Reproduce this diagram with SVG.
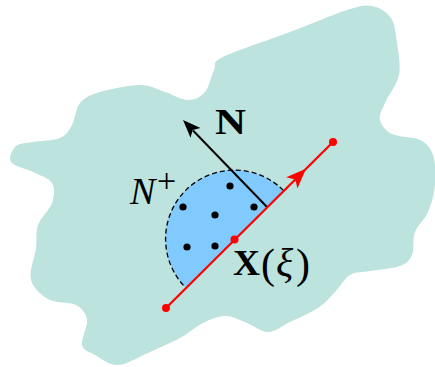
<svg xmlns="http://www.w3.org/2000/svg" width="435" height="367" viewBox="0 0 435 367">
<style>
.lbl{font-family:"Liberation Serif","Times New Roman",serif;fill:#000}
.dot{fill:#000}
.rdot{fill:#ff0000}
</style>
<rect width="435" height="367" fill="#ffffff"/>
<g id="region">
<path fill="#bde3de" d="M223,57 C235.7,50.7 269.3,39.8 290,32 S333.3,14.3 347,10 S364.7,4.7 372,6 S386.8,11.8 391,18 S395.7,33.5 397,43 S401,65 399,75 S388.2,95.5 385,103 S378.8,114.8 380,120 S385.3,130.7 392,134 S413.2,136.5 420,140 S430.5,147.5 433,155 S435.8,175.5 435,185 S431.3,204.2 428,212 S417.7,224.8 415,232 S414.5,249.3 412,255 S407,263.3 400,266 S378.3,269.5 370,271 S355.8,271.5 350,275 S340.3,286.5 335,292 S325.5,303 318,308 S298.3,318 290,322 S275.5,332 268,332 S252.2,324.7 245,322 S232,315.8 225,316 S210.5,319.3 203,323 S188.8,333.2 180,338 S160.3,347.5 150,352 S127.2,364.5 118,365 S101,358.3 95,355 S83.3,350.8 82,345 S88,326.7 87,320 S82.2,308.3 76,305 S57.2,303.3 50,300 S33.3,288.7 31,280 S34.8,257.2 36,248 S35.3,232.5 38,225 S49.7,210 52,203 S55.2,188.2 52,183 S39.8,175.5 33,172 S13.8,166.3 11,162 S12.3,149.3 16,146 S25.7,143.3 33,142 S53.5,140.8 60,138 S68.7,130.8 72,125 S75.3,108.5 80,103 S90,95 100,92 S129.2,85 140,85 S157,89.5 165,92 S181.3,100 188,100 S200.7,97 205,92 S211,75.8 214,70 S210.3,63.3 223,57 Z"/>
</g>
<g id="halfdisk">
<path fill="#80caff" d="M283.4,190.4 A69,69 0 0 0 185.9,190.1 A69,69 0 0 0 185.6,287.6 Z"/>
<path fill="none" stroke="#000" stroke-width="1.3" stroke-dasharray="5,3" d="M283.4,190.4 A69,69 0 0 0 185.9,190.1 A69,69 0 0 0 185.6,287.6"/>
</g>
<g id="points">
<circle class="dot" cx="230" cy="186" r="3.6"/>
<circle class="dot" cx="183" cy="207" r="3.6"/>
<circle class="dot" cx="254" cy="207" r="3.6"/>
<circle class="dot" cx="215" cy="215" r="3.6"/>
<circle class="dot" cx="187" cy="247" r="3.6"/>
<circle class="dot" cx="215" cy="246" r="3.6"/>
</g>
<g id="connectors">
<g id="normal">
<line x1="267" y1="207" x2="193" y2="130.5" stroke="#000" stroke-width="2"/>
<path fill="#000" d="M183,120 L200.5,128 L192.7,130.1 L190.5,137.8 Z"/>
</g>
<g id="curve">
<line x1="166" y1="308" x2="333" y2="142" stroke="#ff0000" stroke-width="2.2"/>
<path fill="#ff0000" d="M306,168.8 L297.4,188.6 L295.4,179.4 L286.2,177.2 Z"/>
<circle class="rdot" cx="166" cy="308" r="4"/>
<circle class="rdot" cx="333" cy="142" r="4"/>
<circle class="rdot" cx="234.5" cy="239.5" r="4"/>
</g>
</g>
<g id="labels">
<text class="lbl" x="215" y="134" font-size="36" font-weight="bold" textLength="31" lengthAdjust="spacingAndGlyphs">N</text>
<text class="lbl" x="130" y="204" font-size="38" font-style="italic">N</text>
<text class="lbl" x="157" y="192" font-size="34">+</text>
<text class="lbl" x="233" y="275" font-size="36" font-weight="bold" textLength="27" lengthAdjust="spacingAndGlyphs">X</text>
<text class="lbl" x="261" y="278" font-size="42" font-weight="300">(</text>
<text class="lbl" x="276" y="276" font-size="40" font-style="italic">ξ</text>
<text class="lbl" x="296" y="278" font-size="42" font-weight="300">)</text>
</g>
</svg>
